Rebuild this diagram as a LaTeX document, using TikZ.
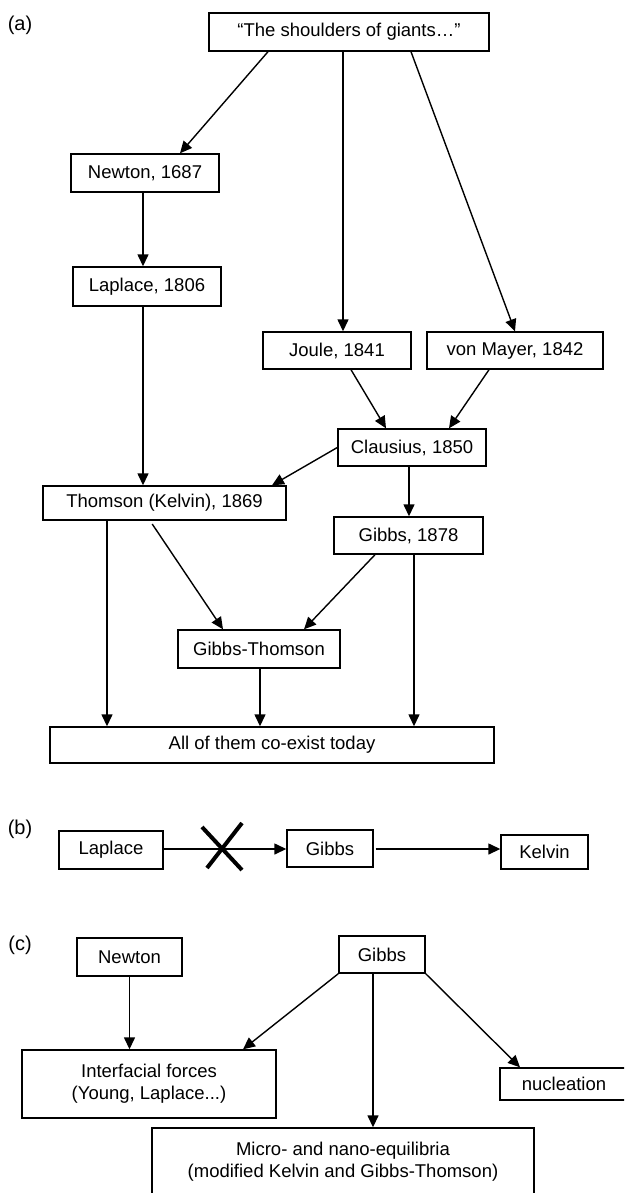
\documentclass[tikz,border=0pt]{standalone}
\usepackage{fontspec}
\setmainfont{Liberation Sans}
\usetikzlibrary{arrows.meta}

\begin{document}
\begin{tikzpicture}[x=1pt,y=-1pt,
  box/.style={draw,line width=1.4pt,inner sep=0pt,align=center,font=\fontsize{18.5}{22}\selectfont},
  lbl/.style={inner sep=0pt,font=\fontsize{20}{24}\selectfont},
  arr/.style={line width=1.4pt,-{Triangle[length=12pt,width=11pt]}}]
\useasboundingbox (0,0) rectangle (624,1193);
\clip (0,0) rectangle (624,1193);
% (a) - the family tree
\node[lbl] (la) at (20,25) {(a)};
\node[box,minimum width=280pt,minimum height=38pt] (giants) at (349,32) {“The shoulders of giants…”};
\node[box,minimum width=148pt,minimum height=38pt] (newton) at (145,173) {Newton, 1687};
\node[box,minimum width=148pt,minimum height=39pt] (laplace) at (147,286.5) {Laplace, 1806};
\node[box,minimum width=148pt,minimum height=37pt] (joule) at (337,350.5) {Joule, 1841};
\node[box,minimum width=176pt,minimum height=37pt] (mayer) at (515,350.5) {von Mayer, 1842};
\node[box,minimum width=148pt,minimum height=37pt] (clausius) at (412,447.5) {Clausius, 1850};
\node[box,minimum width=243pt,minimum height=34pt] (thomson) at (164.5,503) {Thomson (Kelvin), 1869};
\node[box,minimum width=149pt,minimum height=37pt] (gibbs) at (408.5,535.5) {Gibbs, 1878};
\node[box,minimum width=162pt,minimum height=38pt] (gt) at (259,649) {Gibbs-Thomson};
\node[box,minimum width=444pt,minimum height=36pt] (all) at (272,745) {All of them co-exist today};
\draw[arr] (giants.south -| 268,0) -- (newton.north -| 180,0);
\draw[arr] (newton.south -| 143,0) -- (laplace.north -| 143,0);
\draw[arr] (giants.south -| 343,0) -- (joule.north -| 343,0);
\draw[arr] (giants.south -| 411,0) -- (mayer.north);
\draw[arr] (laplace.south -| 143,0) -- (thomson.north -| 143,0);
\draw[arr] (joule.south -| 351,0) -- (clausius.north -| 386,0);
\draw[arr] (mayer.south -| 489,0) -- (clausius.north -| 449,0);
\draw[arr] (clausius.west) -- (thomson.north -| 272,0);
\draw[arr] (clausius.south -| 409,0) -- (gibbs.north -| 409,0);
\draw[arr] (thomson.south -| 107,0) -- (all.north -| 107,0);
\draw[arr,shorten <=4pt] (thomson.south -| 150,0) -- (gt.north -| 223,0);
\draw[arr] (gibbs.south -| 375,0) -- (gt.north -| 304,0);
\draw[arr] (gt.south -| 260,0) -- (all.north -| 260,0);
\draw[arr] (gibbs.south -| 414,0) -- (all.north -| 414,0);
% (b) - the order of things
\node[lbl] (lb) at (20,829) {(b)};
\node[box,minimum width=104pt,minimum height=38pt] (laplaceb) at (111,850) {Laplace};
\node[box,minimum width=86pt,minimum height=37pt] (gibbsb) at (330,848.5) {Gibbs};
\node[box,minimum width=87pt,minimum height=34pt] (kelvinb) at (544.5,852) {Kelvin};
\draw[arr] (laplaceb.east |- 0,849) -- (gibbsb.west |- 0,849);
\draw[arr,shorten <=2pt] (gibbsb.east |- 0,849) -- (kelvinb.west |- 0,849);
\draw[line width=4pt] (202,827) -- (242,870) (242,823) -- (207,868);
% (c) - what came out of it
\node[lbl] (lc) at (20,945) {(c)};
\node[box,minimum width=105pt,minimum height=38pt] (newtonc) at (129.5,957) {Newton};
\node[box,minimum width=86pt,minimum height=37pt] (gibbsc) at (382,954.5) {Gibbs};
\node[box,minimum width=254pt,minimum height=68pt] (forces) at (149,1084) {Interfacial forces\\(Young, Laplace...)};
\node[box,minimum width=128pt,minimum height=32pt] (nucl) at (564,1084) {nucleation};
\node[box,minimum width=382pt,minimum height=68pt] (micro) at (343,1162) {Micro- and nano-equilibria\\(modified Kelvin and Gibbs-Thomson)};
\draw[arr] (newtonc.south) -- (forces.north -| newtonc.south);
\draw[arr] (gibbsc.south west) -- (forces.north -| 243,0);
\draw[arr] (gibbsc.south -| 373,0) -- (micro.north -| 373,0);
\draw[arr] (gibbsc.south east) -- (nucl.north -| 520,0);
\end{tikzpicture}
\end{document}
